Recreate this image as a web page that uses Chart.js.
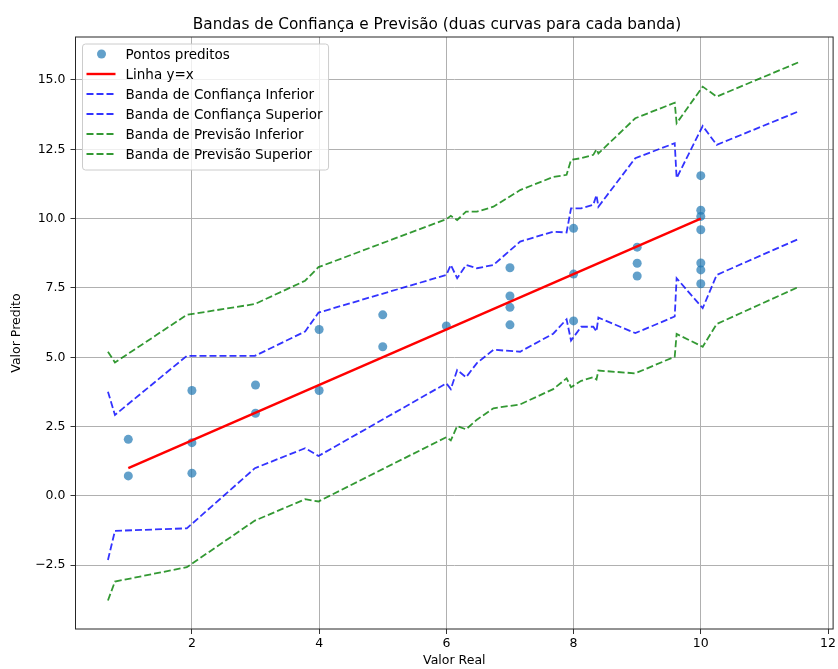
<!DOCTYPE html>
<html>
<head>
<meta charset="utf-8">
<script src="https://cdn.jsdelivr.net/npm/chart.js@4.4.0/dist/chart.umd.min.js"></script>
<style>
html, body { margin: 0; padding: 0; background: #fff; }
</style>
</head>
<body>
<canvas id="chart" width="838" height="669"></canvas>
<script>
// scatter points (real value, predicted value)
var realX = [1, 1, 2, 2, 2, 3, 3, 4, 4, 5, 5, 6, 7, 7, 7, 7, 8, 8, 8, 9, 9, 9, 10, 10, 10, 10, 10, 10, 10];
var predY = [2.04, 0.72, 3.8, 1.92, 0.82, 4.0, 2.98, 6.0, 3.8, 6.53, 5.38, 6.13, 8.23, 7.21, 6.8, 6.17,
             9.65, 8.0, 6.31, 8.97, 8.39, 7.93, 11.55, 10.3, 10.08, 9.6, 8.4, 8.15, 7.65];

// y = x reference line
var lineX = [1, 10];

// bands (two curves each)
var bandX   = [0.68, 0.79, 1.92, 2.99, 3.78, 3.99, 6.0, 6.07, 6.17, 6.31, 6.48, 6.74, 7.16, 7.68, 7.89, 7.96, 8.12, 8.31, 8.36, 8.39, 8.97, 9.59, 9.62, 10.03, 10.25, 11.53];
var confUp  = [3.76, 2.92, 5.05, 5.05, 5.93, 6.61, 7.97, 8.33, 7.85, 8.33, 8.21, 8.33, 9.17, 9.53, 9.5, 10.37, 10.37, 10.5, 10.85, 10.43, 12.18, 12.72, 11.46, 13.34, 12.66, 13.86];
var confLow = [-2.31, -1.26, -1.17, 1.0, 1.72, 1.44, 4.06, 3.85, 4.54, 4.28, 4.79, 5.27, 5.2, 5.85, 6.37, 5.6, 6.1, 6.1, 5.93, 6.43, 5.87, 6.47, 7.85, 6.77, 7.97, 9.26];
var prevUp  = [5.2, 4.81, 6.53, 6.92, 7.76, 8.25, 9.98, 10.1, 9.95, 10.25, 10.25, 10.43, 11.03, 11.5, 11.58, 12.12, 12.18, 12.3, 12.5, 12.35, 13.62, 14.18, 13.44, 14.76, 14.4, 15.63];
var prevLow = [-3.77, -3.09, -2.57, -0.89, -0.12, -0.2, 2.12, 2.0, 2.52, 2.4, 2.75, 3.16, 3.3, 3.85, 4.24, 3.92, 4.15, 4.28, 4.2, 4.52, 4.42, 5.02, 5.84, 5.38, 6.2, 7.53];

var xTicks = [2, 4, 6, 8, 10, 12];
var yTicks = [-2.5, 0, 2.5, 5, 7.5, 10, 12.5, 15];

var chartTitle = 'Bandas de Confiança e Previsão (duas curvas para cada banda)';
var FONT = 'DejaVu Sans';

function pts(xs, ys) {
    return xs.map((x, i) => ({ x: x, y: ys[i] }));
}

function band(label, color, ys, order) {
    return {
        label: label,
        data: pts(bandX, ys),
        showLine: true,
        borderColor: color,
        backgroundColor: color,
        borderWidth: 1.8,
        borderDash: [7, 3],
        pointRadius: 0,
        tension: 0,
        order: order
    };
}

// frame (spines), title and a matplotlib-like legend inside the axes
var framePlugin = {
    id: 'frameLegend',
    afterDatasetsDraw(chart) {
        var ctx = chart.ctx, a = chart.chartArea;
        ctx.save();
        ctx.strokeStyle = '#262626';
        ctx.lineWidth = 1;
        ctx.strokeRect(a.left, a.top, a.right - a.left, a.bottom - a.top);

        // title
        ctx.font = '15.3px "' + FONT + '"';
        ctx.fillStyle = '#000';
        ctx.textAlign = 'center';
        ctx.textBaseline = 'alphabetic';
        ctx.fillText(chartTitle, 437, 28.5);

        // legend
        ctx.font = '13.5px "' + FONT + '"';
        var sets = chart.data.datasets;
        var w = 0;
        sets.forEach(d => { w = Math.max(w, ctx.measureText(d.label).width); });
        var lx = a.left + 7, ly = a.top + 7;
        var bw = 43 + w + 6, bh = 20 * sets.length + 6;
        ctx.beginPath();
        if (ctx.roundRect) ctx.roundRect(lx, ly, bw, bh, 3);
        else ctx.rect(lx, ly, bw, bh);
        ctx.fillStyle = 'rgba(255,255,255,0.8)';
        ctx.fill();
        ctx.strokeStyle = '#cccccc';
        ctx.stroke();

        sets.forEach((d, i) => {
            var y = ly + 10 + i * 20;
            if (d.showLine) {
                ctx.setLineDash(d.borderDash || []);
                ctx.strokeStyle = d.borderColor;
                ctx.lineWidth = d.borderWidth;
                ctx.beginPath();
                ctx.moveTo(lx + 4, y);
                ctx.lineTo(lx + 33, y);
                ctx.stroke();
                ctx.setLineDash([]);
            } else {
                ctx.fillStyle = d.backgroundColor;
                ctx.beginPath();
                ctx.arc(lx + 19, y, 4.5, 0, Math.PI * 2);
                ctx.fill();
            }
            ctx.fillStyle = '#000';
            ctx.textBaseline = 'middle';
            ctx.textAlign = 'left';
            ctx.fillText(d.label, lx + 43, y + 1);
        });
        ctx.restore();
    }
};

var Ctx = document.getElementById('chart');
var Chart1 = new Chart(Ctx, {
    type: 'scatter',
    data: {
        datasets: [{
            label: 'Pontos preditos',
            data: pts(realX, predY),
            backgroundColor: 'rgba(31,119,180,0.7)',
            borderWidth: 0,
            pointRadius: 4.5,
            order: 6
        }, {
            label: 'Linha y=x',
            data: pts(lineX, lineX),
            showLine: true,
            borderColor: '#ff0000',
            backgroundColor: '#ff0000',
            borderWidth: 2.4,
            pointRadius: 0,
            order: 5
        },
            band('Banda de Confiança Inferior', 'rgba(0,0,255,0.8)', confLow, 4),
            band('Banda de Confiança Superior', 'rgba(0,0,255,0.8)', confUp, 3),
            band('Banda de Previsão Inferior', 'rgba(0,128,0,0.8)', prevLow, 2),
            band('Banda de Previsão Superior', 'rgba(0,128,0,0.8)', prevUp, 1)
        ]
    },
    options: {
        responsive: false,
        animation: false,
        layout: { padding: { left: 0, right: 4, top: 37, bottom: 0 } },
        plugins: {
            legend: { display: false },
            tooltip: { enabled: false },
            title: { display: false }
        },
        scales: {
            x: {
                type: 'linear',
                min: 0.17,
                max: 12.08,
                afterBuildTicks: (s) => { s.ticks = xTicks.map(v => ({ value: v })); },
                afterFit: (s) => { s.height = 40; },
                grid: { color: '#b0b0b0', lineWidth: 1, tickLength: 5, tickColor: '#333' },
                border: { display: false },
                ticks: {
                    color: '#000', autoSkip: false, maxRotation: 0, padding: 2,
                    font: { family: FONT, size: 12.5 },
                    callback: (v) => String(v)
                },
                title: {
                    display: true, text: 'Valor Real', color: '#000',
                    font: { family: FONT, size: 12.5 },
                    padding: { top: 0, bottom: 1 }
                }
            },
            y: {
                type: 'linear',
                min: -4.8,
                max: 16.55,
                afterBuildTicks: (s) => { s.ticks = yTicks.map(v => ({ value: v })); },
                afterFit: (s) => { s.width = 75.5; },
                grid: { color: '#b0b0b0', lineWidth: 1, tickLength: 5, tickColor: '#333' },
                border: { display: false },
                ticks: {
                    color: '#000', autoSkip: false, padding: 5,
                    font: { family: FONT, size: 12.5 },
                    callback: (v) => v.toFixed(1).replace('-', '\u2212')
                },
                title: {
                    display: true, text: 'Valor Predito', color: '#000',
                    font: { family: FONT, size: 12.5 },
                    padding: { top: 9, bottom: 0 }
                }
            }
        }
    },
    plugins: [framePlugin]
});
</script>
</body>
</html>
